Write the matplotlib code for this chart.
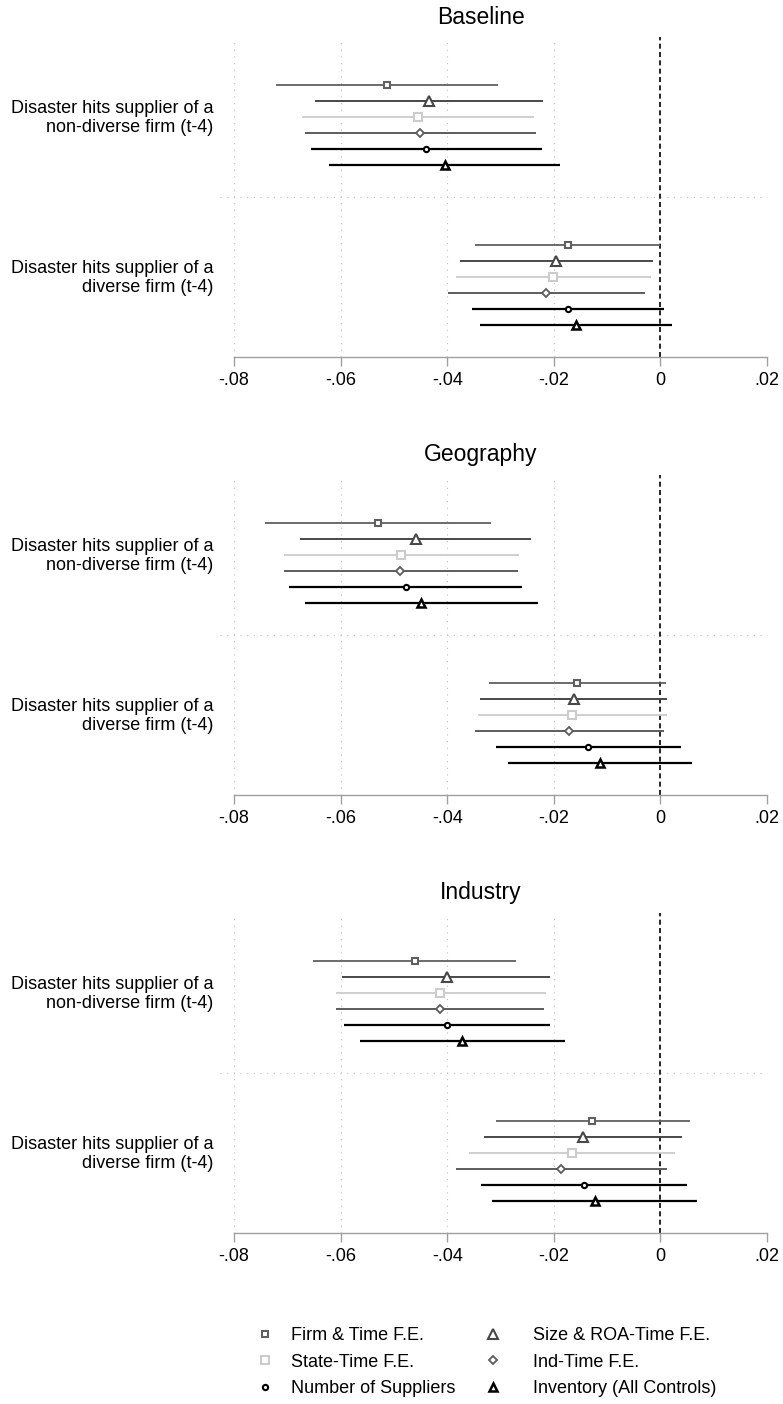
import numpy as np
import matplotlib.pyplot as plt
from matplotlib.lines import Line2D

plt.rcParams['font.family'] = ['Liberation Sans', 'DejaVu Sans']

# Panels, coefficient labels and model names
panels = ['Baseline', 'Geography', 'Industry']
categories = ['Disaster hits supplier of a\nnon-diverse firm (t-4)',
              'Disaster hits supplier of a\ndiverse firm (t-4)']
models = ['Firm & Time F.E.', 'Size & ROA-Time F.E.', 'State-Time F.E.',
          'Ind-Time F.E.', 'Number of Suppliers', 'Inventory (All Controls)']

xticks = [-0.08, -0.06, -0.04, -0.02, 0, 0.02]
xticklabels = ['-.08', '-.06', '-.04', '-.02', '0', '.02']

# Point estimates and 95% CI bounds: one row per coefficient, one column per model
baseline_coef = [[-0.0513, -0.0434, -0.0455, -0.0451, -0.0440, -0.0404],
                 [-0.0174, -0.0195, -0.0201, -0.0214, -0.0174, -0.0158]]
baseline_lo = [[-0.0722, -0.0648, -0.0672, -0.0667, -0.0656, -0.0621],
               [-0.0348, -0.0376, -0.0384, -0.0398, -0.0354, -0.0339]]
baseline_hi = [[-0.0304, -0.0220, -0.0238, -0.0234, -0.0223, -0.0188],
               [0.0000, -0.0013, -0.0017, -0.0029, 0.0006, 0.0022]]

geography_coef = [[-0.0529, -0.0459, -0.0487, -0.0488, -0.0477, -0.0449],
                  [-0.0156, -0.0163, -0.0166, -0.0171, -0.0136, -0.0113]]
geography_lo = [[-0.0742, -0.0676, -0.0707, -0.0707, -0.0696, -0.0667],
                [-0.0321, -0.0339, -0.0343, -0.0348, -0.0308, -0.0285]]
geography_hi = [[-0.0317, -0.0242, -0.0266, -0.0268, -0.0259, -0.0230],
                [0.0011, 0.0013, 0.0012, 0.0006, 0.0038, 0.0060]]

industry_coef = [[-0.0460, -0.0401, -0.0413, -0.0413, -0.0401, -0.0372],
                 [-0.0128, -0.0145, -0.0166, -0.0186, -0.0143, -0.0123]]
industry_lo = [[-0.0651, -0.0597, -0.0609, -0.0608, -0.0594, -0.0564],
               [-0.0309, -0.0331, -0.0359, -0.0384, -0.0337, -0.0316]]
industry_hi = [[-0.0270, -0.0207, -0.0215, -0.0219, -0.0208, -0.0179],
               [0.0055, 0.0041, 0.0028, 0.0013, 0.0049, 0.0068]]

results = [(baseline_coef, baseline_lo, baseline_hi),
           (geography_coef, geography_lo, geography_hi),
           (industry_coef, industry_lo, industry_hi)]

# Per-model styling (monochrome scheme)
colors = ['#606060', '#474747', '#cccccc', '#5c5c5c', '#000000', '#000000']
markers = ['s', '^', 's', 'D', 'o', '^']
msizes = [3.8, 6.6, 5.6, 3.8, 3.8, 5.8]
mews = [1.5, 1.5, 1.5, 1.3, 1.5, 1.8]
lws = [1.3, 1.4, 1.3, 1.4, 1.6, 1.6]
offsets = np.arange(6) * 0.1 - 0.2

fig = plt.figure(figsize=(7.83, 14.04), dpi=100)
bottoms = [1 - 357 / 1404, 1 - 795 / 1404, 1 - 1233 / 1404]
grid_kw = dict(color='#bdbdbd', lw=0.8, ls=(0, (1, 5)))

for title, (coef, lo, hi), bot in zip(panels, results, bottoms):
    ax = fig.add_axes([234 / 783, bot, 533 / 783, 320 / 1404])
    for xv in xticks[:-2]:
        ax.axvline(xv, zorder=0, **grid_kw)
    ax.plot([-0.0827, 0.02], [1.5, 1.5], clip_on=False, zorder=0, **grid_kw)
    ax.axvline(0, color='black', lw=1.2, ls=(0, (3, 2)), zorder=1)

    for c in range(len(categories)):
        for m in range(len(models)):
            y = c + 1 + offsets[m]
            ax.plot([lo[c][m], hi[c][m]], [y, y], color=colors[m],
                    lw=lws[m], solid_capstyle='butt', zorder=2)
            ax.plot(coef[c][m], y, ls='none', marker=markers[m],
                    ms=msizes[m], mew=mews[m], mec=colors[m], mfc='white',
                    zorder=3)

    ax.set_xlim(-0.08, 0.02)
    ax.set_ylim(2.5, 0.5)
    ax.set_xticks(xticks)
    ax.set_xticklabels(xticklabels, fontsize=13)
    ax.set_yticks([0.99, 1.99])
    ax.set_yticklabels(categories, fontsize=13, linespacing=1.1)
    ax.tick_params(axis='y', length=0, pad=15)
    ax.tick_params(axis='x', length=6.5, width=1, color='#a0a0a0', pad=4)
    for s in ['top', 'right', 'left']:
        ax.spines[s].set_visible(False)
    ax.spines['bottom'].set_color('#a0a0a0')
    ax.spines['bottom'].set_linewidth(1.0)
    ax.text(0.463, 1.0625, title, transform=ax.transAxes, ha='center',
            va='center', fontsize=16.5)

# Legend in two columns, filled row by row
handles = [Line2D([], [], ls='none', marker=markers[m], ms=msizes[m],
                  mew=mews[m], mec=colors[m], mfc='white') for m in range(6)]
leg_kw = dict(loc='upper left', frameon=False, fontsize=13, handlelength=1.0,
              labelspacing=0.52, borderpad=0.4)
left_col = [0, 2, 4]
right_col = [1, 3, 5]
fig.legend([handles[i] for i in left_col], [models[i] for i in left_col],
           bbox_to_anchor=(240 / 783, 1 - 1311 / 1404),
           handletextpad=0.95, **leg_kw)
fig.legend([handles[i] for i in right_col], [models[i] for i in right_col],
           bbox_to_anchor=(468 / 783, 1 - 1311 / 1404),
           handletextpad=1.7, **leg_kw)

fig.savefig('out.png', dpi=100)
